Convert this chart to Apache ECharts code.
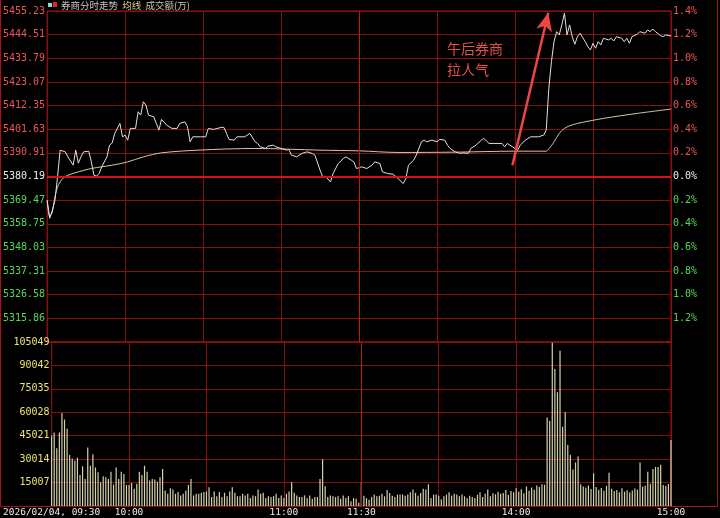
<!DOCTYPE html>
<html>
<head>
<meta charset="utf-8">
<script src="https://cdn.jsdelivr.net/npm/echarts@6/dist/echarts.min.js"></script>
<style>
  html, body { margin: 0; padding: 0; background: #000; }
  #chart { width: 720px; height: 518px; }
</style>
</head>
<body>
<div id="chart"></div>
<script>
// 券商指数 分时 2026/02/04
const basePrice = 5380.19;
const priceStep = 10.72;           // 0.2% per grid row
const priceTickLabels = ['5455.23', '5444.51', '5433.79', '5423.07', '5412.35', '5401.63', '5390.91',
  '5380.19', '5369.47', '5358.75', '5348.03', '5337.31', '5326.58', '5315.86'];
const pctTickLabels = ['1.4%', '1.2%', '1.0%', '0.8%', '0.6%', '0.4%', '0.2%',
  '0.0%', '0.2%', '0.4%', '0.6%', '0.8%', '1.0%', '1.2%'];
const volumeStep = 15007;
const volumeTickLabels = ['15007', '30014', '45021', '60028', '75035', '90042', '105049'];
const timeTickMinutes = [0, 30, 90, 120, 180, 240];
const timeTickLabels = ['2026/02/04, 09:30', '10:00', '11:00', '11:30', '14:00', '15:00'];

// minutes since 09:30 (121 = 13:01)
const priceMinutes = [0, 1, 2, 3, 4, 5, 7, 8, 10, 11, 12, 13, 14, 16, 17, 18, 19, 20, 21, 23,
  24, 25, 26, 28, 29, 30, 31, 32, 34, 35, 36, 37, 38, 39, 41, 42, 43, 44, 46, 48,
  50, 51, 53, 54, 55, 56, 59, 61, 62, 64, 67, 68, 69, 70, 72, 73, 76, 78, 80, 81,
  82, 84, 85, 87, 88, 90, 92, 93, 94, 96, 98, 100, 102, 103, 105, 106, 107, 109, 110, 112,
  114, 115, 117, 118, 119, 121, 123, 125, 126, 128, 129, 131, 133, 135, 137, 138, 139, 141, 142, 144,
  145, 146, 148, 150, 151, 153, 154, 155, 157, 159, 160, 162, 163, 165, 167, 168, 170, 172, 175, 176,
  177, 179, 181, 182, 184, 186, 189, 191, 192, 193, 194, 195, 196, 197, 198, 199, 200, 201, 202, 203,
  204, 205, 207, 208, 209, 210, 211, 212, 213, 214, 216, 217, 218, 219, 221, 222, 223, 224, 225, 227,
  228, 230, 231, 232, 233, 234, 236, 237, 238, 240];
const priceValues = [5369.43, 5361.25, 5364.88, 5369.43, 5380.01, 5392.14, 5391.36, 5389.09, 5385.32, 5392.14,
  5386.23, 5389.09, 5391.36, 5391.68, 5386.82, 5380.78, 5380.33, 5381.55, 5384.55, 5389.09,
  5394.41, 5395.31, 5399.72, 5404.26, 5398.18, 5398.95, 5396.68, 5401.99, 5401.99, 5409.53,
  5408.03, 5414.07, 5412.57, 5408.03, 5407.26, 5404.26, 5401.22, 5406.08, 5403.49, 5401.99,
  5401.99, 5404.26, 5404.99, 5402.72, 5395.91, 5398.18, 5398.18, 5398.18, 5401.99, 5401.54,
  5402.45, 5402.45, 5399.72, 5397.00, 5396.68, 5398.18, 5398.18, 5399.72, 5395.91, 5395.18,
  5393.63, 5392.91, 5393.95, 5394.41, 5393.63, 5392.91, 5392.14, 5392.45, 5389.86, 5389.09,
  5390.64, 5391.36, 5390.64, 5389.86, 5383.05, 5380.01, 5380.33, 5377.74, 5381.55, 5386.09,
  5388.37, 5389.09, 5387.59, 5386.82, 5383.82, 5384.55, 5383.82, 5385.32, 5386.82, 5386.09,
  5382.28, 5381.55, 5381.23, 5379.28, 5377.01, 5379.28, 5385.32, 5387.59, 5389.86, 5395.91,
  5396.68, 5395.91, 5396.68, 5395.91, 5397.00, 5396.68, 5394.41, 5392.91, 5391.36, 5390.64,
  5390.91, 5390.64, 5392.91, 5394.41, 5396.68, 5397.45, 5395.18, 5395.18, 5395.18, 5393.63,
  5395.18, 5393.63, 5392.14, 5394.41, 5396.68, 5398.18, 5398.18, 5398.95, 5401.22, 5420.16,
  5432.24, 5441.33, 5445.87, 5444.37, 5448.91, 5454.22, 5444.37, 5448.91, 5443.60, 5440.14,
  5443.60, 5445.14, 5441.33, 5439.05, 5437.56, 5440.60, 5438.33, 5441.33, 5439.83, 5442.87,
  5442.10, 5442.87, 5441.64, 5443.60, 5442.87, 5441.33, 5442.87, 5440.60, 5443.60, 5444.69,
  5445.87, 5445.14, 5446.64, 5445.87, 5447.09, 5445.87, 5444.05, 5443.60, 5444.37, 5443.91];

const avgMinutes = [0, 1, 2, 3, 4, 5, 6, 8, 12, 17, 25, 31, 37, 44, 58, 80, 105, 120, 135, 157,
  180, 192, 193, 194, 195, 197, 199, 201, 204, 214, 227, 240];
const avgValues = [5369.43, 5362.00, 5364.11, 5370.92, 5375.47, 5377.74, 5379.28, 5380.78, 5382.28, 5383.82,
  5385.32, 5386.82, 5389.09, 5390.91, 5392.14, 5392.91, 5392.14, 5391.82, 5391.09, 5391.23,
  5391.68, 5391.68, 5392.80, 5394.20, 5395.91, 5399.72, 5401.99, 5403.17, 5404.26, 5406.53,
  5408.80, 5410.76];

// 成交额(万), one bar per minute, minutes 0..240
const volumeValues = [
  45200, 47000, 37000, 47000, 59600, 55400, 49500, 32600, 30400, 29000,
  31000, 19900, 25400, 17300, 37400, 25800, 33200, 24700, 21600, 15200,
  19000, 18400, 17300, 22000, 13700, 24700, 17300, 22000, 20500, 13500,
  13500, 14800, 11000, 14200, 22000, 19900, 25800, 22000, 16300, 17300,
  16900, 15600, 18400, 23700, 9900, 7800, 11400, 10600, 7800, 8900,
  6800, 7800, 9900, 13500, 17300, 6800, 7800, 7800, 8500, 8900,
  9300, 12000, 5700, 9300, 6300, 8900, 5700, 8500, 6300, 9300,
  12000, 8500, 6300, 6300, 7800, 6800, 7800, 5100, 6800, 6300,
  10600, 7800, 8500, 5100, 6300, 5700, 6300, 7800, 5100, 6800,
  5100, 7800, 9300, 15200, 8500, 6800, 5700, 5700, 6800, 5100,
  6800, 4700, 5700, 5700, 17300, 30000, 12700, 5700, 6800, 6300,
  5700, 6300, 4700, 6800, 5100, 6300, 3000, 5100, 4700, 2100,
  15200,
  6600, 5100, 4000, 5700, 7300, 6200, 6600, 7900, 6200, 10200,
  8400, 6600, 5700, 7300, 7300, 7300, 6600, 7300, 8800, 10600,
  8400, 6600, 8400, 11000, 10600, 13900, 5100, 7300, 7300, 6600,
  4400, 6200, 7300, 8800, 6600, 7900, 7300, 6200, 7300, 6200,
  5100, 6600, 5700, 5100, 7300, 8800, 5700, 7900, 10600, 6200,
  8200, 7500, 9100, 7800, 8400, 10200, 7100, 9600, 8800, 11400,
  9300, 10800, 8100, 12500, 9700, 11900, 10400, 13200, 12100, 14000,
  13600,
  56700, 54500, 104600, 87700, 72900, 99400, 50700, 60200, 39100, 32800,
  23300, 27900, 31700,
  14000, 12500, 11800, 13100, 10900, 21000, 12200, 10400, 11600, 9800,
  12900, 21300, 11000, 9600, 10300, 8800, 11400, 9200, 10100, 8700,
  9900, 11200, 10500, 27900, 12400, 13000, 22000, 14200, 23700, 25000,
  25000, 26400, 13500, 12800, 14100, 42300];

const arrowFrom = [179, 5385.3];
const arrowTo = [192.8, 5454.4];

const gridColor = '#861010';
const frameColor = '#a81414';
const monoFont = 'DejaVu Sans Mono';

const chart = echarts.init(document.getElementById('chart'));

const labelRich = {
  up: { color: '#ee5656', fontFamily: monoFont, fontSize: 10 },
  flat: { color: '#ececec', fontFamily: monoFont, fontSize: 10 },
  down: { color: '#58d858', fontFamily: monoFont, fontSize: 10 },
  vol: { color: '#ece474', fontFamily: monoFont, fontSize: 10 }
};

function styleOf(k) {
  return k > 0 ? 'up' : (k < 0 ? 'down' : 'flat');
}

const option = {
  backgroundColor: '#000',
  animation: false,
  grid: [
    { left: 47, width: 624, top: 11, height: 331, show: true, borderColor: frameColor, borderWidth: 1 },
    { left: 47, width: 624, top: 342, height: 164.5, show: true, borderColor: frameColor, borderWidth: 1 }
  ],
  xAxis: [0, 1].map(g => ({
    type: 'value',
    gridIndex: g,
    min: 0,
    max: 240,
    interval: 30,
    axisLine: { show: false },
    axisTick: { show: false },
    splitLine: { show: true, lineStyle: { color: gridColor, width: 1 } },
    axisLabel: g === 1 ? {
      show: true,
      margin: 2,
      color: '#ececec',
      fontFamily: monoFont,
      fontSize: 9.5,
      showMinLabel: true,
      showMaxLabel: true,
      formatter: v => {
        const i = timeTickMinutes.indexOf(Math.round(v));
        return i < 0 ? '' : timeTickLabels[i];
      }
    } : { show: false }
  })),
  yAxis: [
    {
      type: 'value',
      gridIndex: 0,
      position: 'left',
      min: basePrice - 7 * priceStep,
      max: basePrice + 7 * priceStep,
      interval: priceStep,
      axisLine: { show: false },
      axisTick: { show: false },
      splitLine: { show: true, lineStyle: { color: gridColor, width: 1 } },
      axisLabel: {
        margin: 2,
        showMinLabel: false,
        showMaxLabel: true,
        rich: labelRich,
        formatter: v => {
          const k = Math.round((v - basePrice) / priceStep);
          return '{' + styleOf(k) + '|' + priceTickLabels[7 - k] + '}';
        }
      }
    },
    {
      type: 'value',
      gridIndex: 0,
      position: 'right',
      min: -1.4,
      max: 1.4,
      interval: 0.2,
      axisLine: { show: false },
      axisTick: { show: false },
      splitLine: { show: false },
      axisLabel: {
        margin: 2,
        showMinLabel: false,
        showMaxLabel: true,
        rich: labelRich,
        formatter: v => {
          const k = Math.round(v / 0.2);
          return '{' + styleOf(k) + '|' + pctTickLabels[7 - k] + '}';
        }
      }
    },
    {
      type: 'value',
      gridIndex: 1,
      position: 'left',
      min: 0,
      max: volumeStep * 7,
      interval: volumeStep,
      axisLine: { show: false },
      axisTick: { show: false },
      splitLine: { show: true, lineStyle: { color: gridColor, width: 1 } },
      axisLabel: {
        margin: 2,
        showMinLabel: false,
        showMaxLabel: true,
        rich: labelRich,
        formatter: v => {
          const k = Math.round(v / volumeStep);
          return '{vol|' + volumeTickLabels[k - 1] + '}';
        }
      }
    }
  ],
  series: [
    {
      name: '均线',
      type: 'line',
      xAxisIndex: 0,
      yAxisIndex: 0,
      data: avgMinutes.map((m, i) => [m, avgValues[i]]),
      smooth: 0.3,
      showSymbol: false,
      silent: true,
      lineStyle: { color: '#d4c89c', width: 1 },
      markLine: {
        silent: true,
        symbol: 'none',
        label: { show: false },
        data: [
          { yAxis: basePrice, lineStyle: { color: '#d81212', width: 2, type: 'solid' } },
          { xAxis: 120, lineStyle: { color: '#c41414', width: 1, type: 'solid' } }
        ]
      }
    },
    {
      name: '券商分时走势',
      type: 'line',
      xAxisIndex: 0,
      yAxisIndex: 0,
      data: priceMinutes.map((m, i) => [m, priceValues[i]]),
      showSymbol: false,
      silent: true,
      lineStyle: { color: '#e0e0e0', width: 1 },
      markLine: {
        silent: true,
        symbol: ['none', 'arrow'],
        symbolSize: [12, 18],
        label: { show: false },
        lineStyle: { color: '#ee4646', width: 2.5, type: 'solid' },
        data: [[{ coord: arrowFrom }, { coord: arrowTo }]]
      }
    },
    {
      name: '成交额(万)',
      type: 'bar',
      xAxisIndex: 1,
      yAxisIndex: 2,
      data: volumeValues.map((v, i) => [i, v]),
      barWidth: 1.2,
      silent: true,
      itemStyle: { color: '#d2d2aa' },
      markLine: {
        silent: true,
        symbol: 'none',
        label: { show: false },
        data: [{ xAxis: 120, lineStyle: { color: '#c41414', width: 1, type: 'solid' } }]
      }
    }
  ],
  graphic: [
    {
      type: 'rect',
      silent: true,
      shape: { x: 0.5, y: -2, width: 717, height: 508.5 },
      style: { fill: 'none', stroke: frameColor, lineWidth: 1 }
    },
    { type: 'rect', silent: true, shape: { x: 48, y: 3, width: 4, height: 4 }, style: { fill: '#7fd8e8' } },
    { type: 'rect', silent: true, shape: { x: 53, y: 2, width: 4, height: 5 }, style: { fill: '#e02424' } },
    {
      type: 'text',
      silent: true,
      x: 61,
      y: 1,
      style: {
        text: '{a|券商分时走势}  {b|均线}  {c|成交额(万)}',
        font: '9.5px "Noto Sans CJK SC"',
        rich: {
          a: { fill: '#c8c8c8', font: '9.5px "Noto Sans CJK SC"' },
          b: { fill: '#d8d08c', font: '9.5px "Noto Sans CJK SC"' },
          c: { fill: '#c8c8b4', font: '9.5px "Noto Sans CJK SC"' }
        }
      }
    },
    {
      type: 'text',
      silent: true,
      x: 447,
      y: 38,
      style: {
        text: '午后券商\n拉人气',
        fill: '#e4504c',
        font: '14px "Noto Sans CJK SC"',
        lineHeight: 21
      }
    }
  ]
};

chart.setOption(option);
</script>
</body>
</html>
